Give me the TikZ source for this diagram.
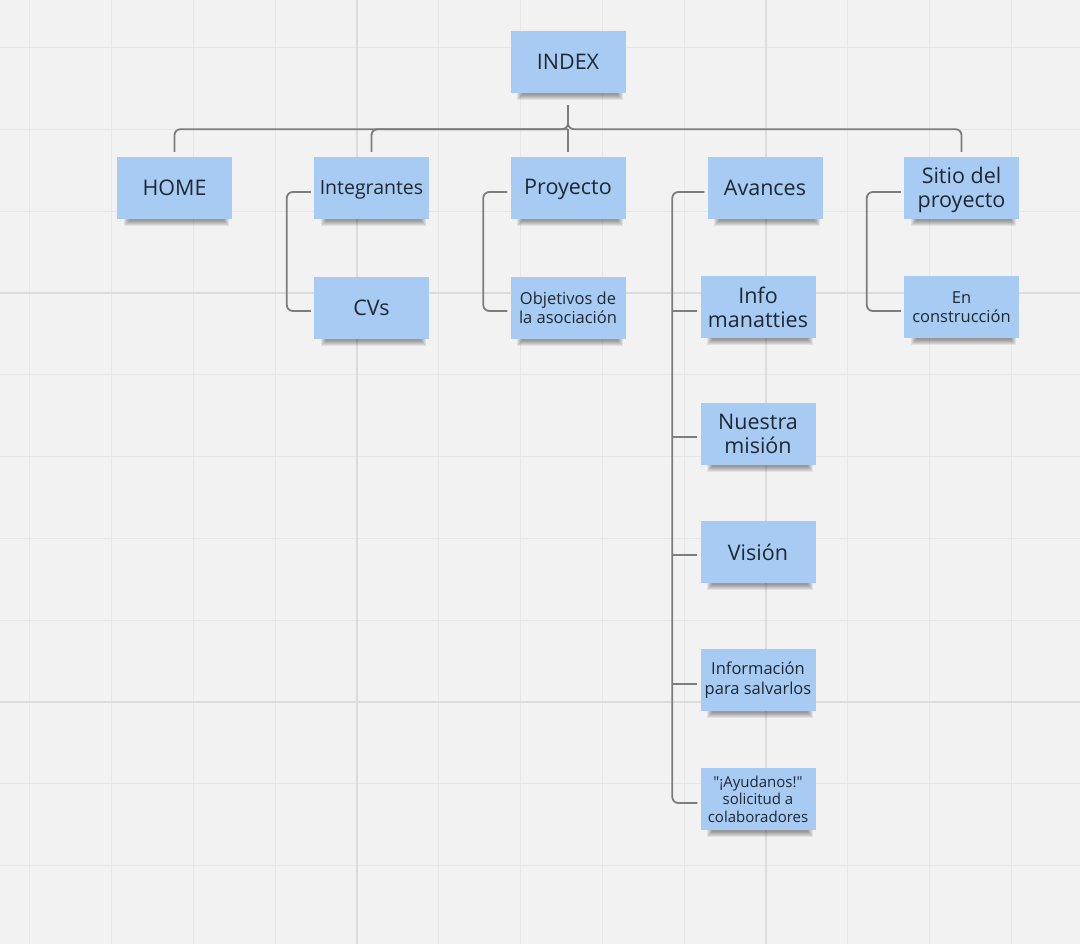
\documentclass[tikz,border=0pt]{standalone}
\usepackage{fontspec}
\setmainfont{Open Sans}[Ligatures=TeXOff]
\usetikzlibrary{calc,backgrounds}
\definecolor{bgc}{HTML}{F2F2F2}
\definecolor{minorc}{HTML}{E7E7E7}
\definecolor{majorc}{HTML}{DCDCDC}
\definecolor{notec}{HTML}{A7CBF2}
\definecolor{txtc}{HTML}{1E2833}
\definecolor{connc}{HTML}{7D7D7D}
\newcommand{\notesh}[1]{%
  \foreach \i in {0,...,5}{%
    \fill[black,opacity=0.07] ($(#1.south west)+(7+\i,-3)$) rectangle ($(#1.south east)+(-3-\i,7-\i)$);}}
\newcommand{\capstrut}{\rule[-3pt]{0pt}{22pt}}
\begin{document}
\begin{tikzpicture}[x=1pt,y=-1pt,
  note/.style={rectangle, fill=notec, minimum width=115pt, minimum height=62pt, inner sep=0pt, align=center, text=txtc},
  big/.style={note, font=\fontsize{21.5}{24}\selectfont},
  mid/.style={note, font=\fontsize{19.5}{22}\selectfont},
  small/.style={note, font=\fontsize{16.5}{19.5}\selectfont},
  tiny/.style={note, font=\fontsize{15}{17.5}\selectfont},
  conn/.style={draw=connc, line width=1.8pt, rounded corners=6pt}]
\useasboundingbox (0,0) rectangle (1080,944);
% nodes
\node[big]   (index) at (568,62)    {\capstrut INDEX};
\node[big]   (home)  at (174.5,188) {\capstrut HOME};
\node[mid]   (integ) at (371.5,188) {\rule[-3pt]{0pt}{20.5pt}Integrantes};
\node[big]   (proy)  at (568,188)   {\capstrut Proyecto};
\node[big]   (avan)  at (765,188)   {\capstrut Avances};
\node[big]   (sitio) at (961.5,188) {\rule{0pt}{20pt}Sitio del\\proyecto};
\node[big]   (cvs)   at (371.5,308) {\capstrut CVs};
\node[small] (objet) at (568,308)   {Objetivos de\\la asociación};
\node[big]   (info)  at (758,307)   {Info\\manatties};
\node[big]   (mision) at (758,434)  {Nuestra\\misión};
\node[big]   (vision) at (758,552)  {\capstrut Visión};
\node[small] (salv)  at (758,680)   {Información\\para salvarlos};
\node[tiny]  (ayud)  at (758,799)   {"¡Ayudanos!"\\solicitud a\\colaboradores};
\node[small] (encon) at (961.5,307) {En\\construcción};
% background: grid and shadows
\begin{pgfonlayer}{background}
  \fill[bgc] (0,0) rectangle (1080,944);
  \foreach \k in {-5,...,9}{
    \pgfmathsetmacro{\xx}{357+81.8*\k}
    \draw[minorc, line width=1.3pt] (\xx,0) -- (\xx,944);}
  \foreach \k in {-4,...,8}{
    \pgfmathsetmacro{\yy}{293+81.8*\k}
    \draw[minorc, line width=1.3pt] (0,\yy) -- (1080,\yy);}
  \foreach \k in {0,5}{
    \pgfmathsetmacro{\xx}{357+81.8*\k}
    \draw[majorc, line width=2pt] (\xx,0) -- (\xx,944);}
  \foreach \k in {0,5}{
    \pgfmathsetmacro{\yy}{293+81.8*\k}
    \draw[majorc, line width=2pt] (0,\yy) -- (1080,\yy);}
  \foreach \n in {index,home,integ,proy,avan,sitio,cvs,objet,info,mision,vision,salv,ayud,encon}{\notesh{\n}}
\end{pgfonlayer}
% top-level connectors
\coordinate (bus) at ($(index.south)+(0,36)$);
\draw[conn] ($(index.south)+(0,12)$) -- (bus) -| ($(home.north)+(0,-5)$);
\draw[conn] ($(index.south)+(0,12)$) -- (bus) -| ($(sitio.north)+(0,-5)$);
\draw[conn] (bus) -| ($(integ.north)+(0,-5)$);
\draw[conn] (bus) -- ($(proy.north)+(0,-5)$);
% Integrantes
\draw[conn] ($(integ.west)+(-3,4)$) -- ++(-24,0) |- ($(cvs.west)+(-3,3)$);
% Proyecto
\draw[conn] ($(proy.west)+(-3,4)$) -- ++(-24,0) |- ($(objet.west)+(-3,3)$);
% Sitio
\draw[conn] ($(sitio.west)+(-3,4)$) -- ++(-34,0) |- ($(encon.west)+(-3,4)$);
% Avances
\coordinate (avx) at ($(avan.west)+(-35,4)$);
\draw[conn] ($(avan.west)+(-3,4)$) -- (avx) |- ($(ayud.west)+(-3,4)$);
\draw[conn] (avx |- info.west)   ++(0,4) -- ($(info.west)+(-3,4)$);
\draw[conn] (avx |- mision.west) ++(0,3) -- ($(mision.west)+(-3,3)$);
\draw[conn] (avx |- vision.west) ++(0,3) -- ($(vision.west)+(-3,3)$);
\draw[conn] (avx |- salv.west)   ++(0,4) -- ($(salv.west)+(-3,4)$);
\end{tikzpicture}
\end{document}
